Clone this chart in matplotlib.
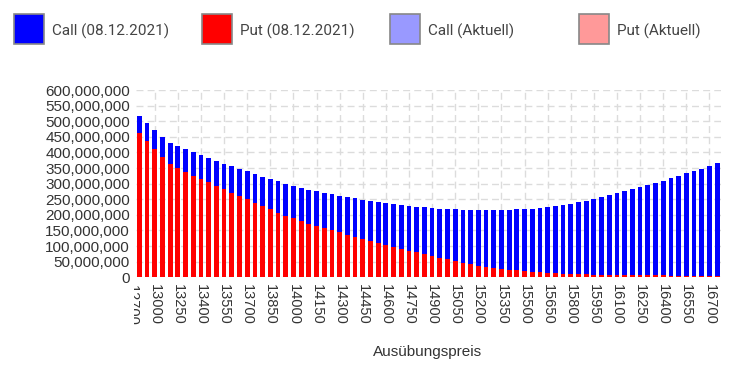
import numpy as np
import matplotlib.pyplot as plt
from matplotlib.patches import Rectangle
from matplotlib.transforms import Bbox, TransformedBbox

# Ausübungspreise (Kategorien)
strikes = [12800, 12900, 13000, 13100, 13200, 13250, 13300, 13350, 13400, 13450,
           13500, 13550, 13600, 13650, 13700, 13750, 13800, 13850, 13900, 13950,
           14000, 14050, 14100, 14150, 14200, 14250, 14300, 14350, 14400, 14450,
           14500, 14550, 14600, 14650, 14700, 14750, 14800, 14850, 14900, 14950,
           15000, 15050, 15100, 15150, 15200, 15250, 15300, 15350, 15400, 15450,
           15500, 15550, 15600, 15650, 15700, 15750, 15800, 15850, 15900, 15950,
           16000, 16050, 16100, 16150, 16200, 16250, 16300, 16350, 16400, 16450,
           16500, 16550, 16600, 16650, 16700, 16750]

# Werte in Millionen (08.12.2021)
put_mio = [462, 436, 410, 386, 362, 350, 338, 326, 315, 304,
           293, 282, 271, 260, 250, 238, 227, 218, 207, 197,
           189, 180, 171, 164, 157, 151, 145, 135, 128, 122,
           115, 109, 102, 96, 90, 84, 80, 75, 68, 63,
           58, 52, 47, 42, 37, 33, 29, 27, 24, 22,
           20, 18, 16, 14, 13, 11, 11, 10, 9, 8,
           8, 7, 7, 7, 6, 6, 6, 6, 6, 5,
           5, 5, 5, 5, 5, 5]
call_mio = [55, 58, 61, 65, 69, 71, 73, 76, 77, 78,
            80, 82, 84, 87, 90, 92, 94, 96, 100, 102,
            103, 106, 110, 111, 113, 116, 116, 122, 125, 127,
            130, 132, 136, 139, 142, 145, 146, 149, 154, 157,
            161, 166, 170, 174, 178, 182, 186, 188, 192, 196,
            198, 202, 205, 210, 215, 221, 225, 230, 236, 243,
            248, 256, 262, 268, 276, 282, 289, 296, 303, 312,
            319, 328, 335, 343, 351, 361]

legend_labels = ['Call (08.12.2021)', 'Put (08.12.2021)', 'Call (Aktuell)', 'Put (Aktuell)']
legend_colors = ['#0000ff', '#ff0000', '#9999ff', '#ff9999']

W, H = 741, 369
fig = plt.figure(figsize=(W / 100, H / 100), dpi=100)
ax = fig.add_axes([135.5 / W, 1 - 277.3 / H, (721 - 135.5) / W, (277.3 - 90) / H])

x = np.arange(len(strikes))
put = np.array(put_mio) * 1e6
call = np.array(call_mio) * 1e6
ax.bar(x, put, width=0.62, color='#ff0000', zorder=2)
ax.bar(x, call, width=0.62, bottom=put, color='#0000ff', zorder=2)

ax.set_xlim(-0.5, len(strikes) - 0.5)
ax.set_ylim(0, 600e6)

yt = np.arange(0, 600e6 + 1, 50e6)
ax.set_yticks(yt)
ax.set_yticklabels([f'{int(v):,}' for v in yt], fontsize=11, color='#333333',
                   family='Liberation Sans')
xt = x[2::3]
ax.set_xticks(xt)
ax.set_xticklabels([str(strikes[i]) for i in xt], rotation=270, ha='center', va='top',
                   fontsize=10.5, color='#333333', family='Liberation Sans')
ax.tick_params(length=0, pad=5)
ax.tick_params(axis='y', pad=4)

ax.grid(True, color='#dcdcdc', linewidth=1.0, linestyle=(0, (5, 3)), zorder=0)
ax.set_axisbelow(True)
for s in ax.spines.values():
    s.set_visible(False)

# halb abgeschnittenes erstes Label (12700)
t = ax.text(-1, -0.04, '12700', transform=ax.get_xaxis_transform(), rotation=270,
            ha='center', va='top', fontsize=10.5, color='#333333', family='Liberation Sans')
t.set_clip_box(TransformedBbox(Bbox([[134 / W, 0], [1, 1]]), fig.transFigure))
t.set_clip_on(True)

fig.text(428 / W, 1 - 352 / H, 'Ausübungspreis', ha='center', va='center',
         fontsize=11, color='#333333', family='Liberation Sans')

# Legende oben
box_x = [14, 202, 390, 579]
for bx, lab, col in zip(box_x, legend_labels, legend_colors):
    fig.patches.append(Rectangle((bx / W, 1 - 44 / H), 30 / W, 30 / H, transform=fig.transFigure,
                                 facecolor=col, edgecolor='#888888', linewidth=1.2))
    fig.text((bx + 38) / W, 1 - 31 / H, lab, ha='left', va='center', fontsize=11,
             color='#444444', family='Roboto')

fig.savefig('out.png', dpi=100)
